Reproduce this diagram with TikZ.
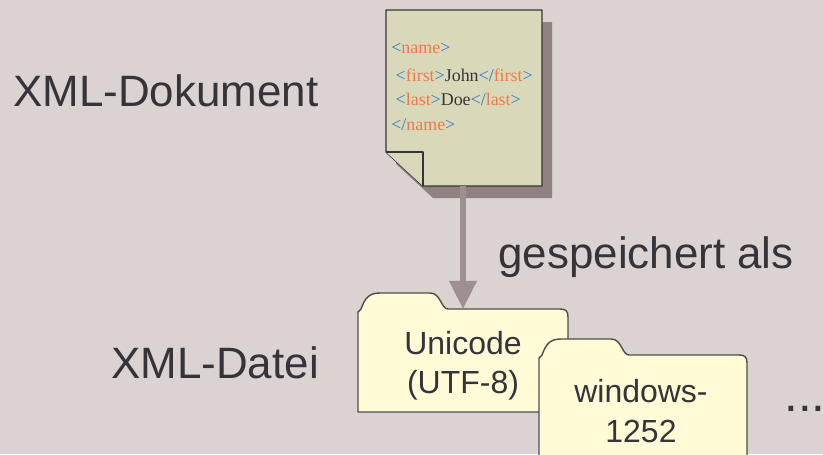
\documentclass[tikz,border=0pt]{standalone}
\usepackage{fontspec}
\setmainfont{Liberation Sans}
\newfontfamily\docfont{Liberation Serif}
\usetikzlibrary{arrows.meta}

\definecolor{bgcol}{RGB}{218,211,209}
\definecolor{inkcol}{RGB}{52,52,58}
\definecolor{pagecol}{RGB}{217,217,186}
\definecolor{shadecol}{RGB}{143,130,128}
\definecolor{foldercol}{RGB}{255,251,214}
\definecolor{arrowcol}{RGB}{157,144,142}
\definecolor{tagblue}{RGB}{40,122,204}
\definecolor{tagred}{RGB}{240,120,76}

\newcommand{\tg}[1]{\textcolor{tagred}{#1}}
\newcommand{\lt}{\textcolor{tagblue}{<}}
\newcommand{\gt}{\textcolor{tagblue}{>}}
\newcommand{\lts}{\textcolor{tagblue}{</}}

% folder outline: left x, tab top y, right x, bottom y
\newcommand{\folder}[4]{%
  \filldraw[folderbox] (#1,{#2+19}) -- ({#1+3},{#2+16}) .. controls ({#1+7},{#2+5}) and ({#1+11},#2) .. ({#1+22},#2)
    -- ({#1+72},#2) .. controls ({#1+83},#2) and ({#1+83},{#2+16}) .. ({#1+90},{#2+16})
    -- ({#3-8},{#2+16}) .. controls ({#3-2},{#2+16}) and (#3,{#2+18}) .. (#3,{#2+24})
    -- (#3,#4) -- (#1,#4) -- cycle;}

\begin{document}
\begin{tikzpicture}[x=0.02cm,y=-0.02cm,line join=round,
  label text/.style={inner sep=0pt,anchor=base west,text=inkcol,font=\fontsize{25}{30}\selectfont},
  folder text/.style={inner sep=0pt,align=center,text=inkcol,font=\fontsize{18.2}{22.4}\selectfont},
  folderbox/.style={draw=black!70,fill=foldercol,line width=0.8pt},
  pagebox/.style={draw=inkcol,fill=pagecol,line width=0.8pt}]
\tikzstyle{save arrow} = [draw=arrowcol,line width=3.4pt,-{Triangle[width=15pt,length=16pt]}]

\useasboundingbox (0,0) rectangle (823,454);
\clip (0,0) rectangle (823,454);
\fill[bgcol] (0,0) rectangle (823,454);

% Labels
\node[label text] (doklabel) at (13,106) {XML-Dokument};
\node[label text] (dateilabel) at (111,378) {XML-Datei};
\node[label text] (savelabel) at (498,268) {gespeichert als};

% XML document page
\fill[shadecol] (396,22) -- (552,22) -- (552,198) -- (433,198) -- (396,164) -- cycle;
\filldraw[pagebox] (386,10) -- (542,10) -- (542,186) -- (423,186) -- (386,152) -- cycle;
\draw[pagebox] (386,152) -- (423,152) -- (423,186);
\node[inner sep=0pt,anchor=base west,align=left,text=inkcol,
  font=\docfont\fontsize{10.2}{13.9}\selectfont] (xml) at (391,130)
  {\lt\tg{name}\gt\\[2pt]
   \hspace{2.5pt}\lt\tg{first}\gt John\lts\tg{first}\gt\\
   \hspace{2.5pt}\lt\tg{last}\gt Doe\lts\tg{last}\gt\\
   \lts\tg{name}\gt};

% Files
\folder{358}{293}{568}{412}
\node[folder text] (utf) at (463,366) {Unicode\\(UTF-8)};
\folder{539}{339}{747}{480}
\node[folder text] (win) at (641,411) {windows-\\1252};
\node[label text,font=\fontsize{28}{30}\selectfont] (more) at (784,411) {...};

% Arrow
\coordinate (pagebottom) at (463,186);
\coordinate (foldertop) at (463,309);
\draw[save arrow] (pagebottom) -- (foldertop);

\end{tikzpicture}
\end{document}
